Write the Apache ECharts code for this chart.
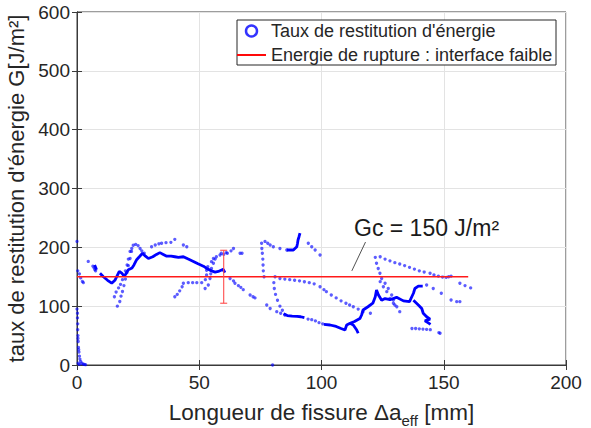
<!DOCTYPE html>
<html>
<head>
<meta charset="utf-8">
<script src="https://cdn.jsdelivr.net/npm/echarts@6/dist/echarts.min.js"></script>
<style>html,body{margin:0;padding:0;background:#fff}#c{width:591px;height:428px}</style>
</head>
<body>
<div id="c"></div>
<script>
// ---- tick labels / axes ----
const xTicks = [0, 50, 100, 150, 200];
const yTicks = [0, 100, 200, 300, 400, 500, 600];

// ---- dotted measurement points (Taux de restitution d'énergie) ----
const dotsOrigin = [[0,210],[0.3,160],[1,155],[1.5,148],[2.2,142],[2.6,140],[0,95],[0.2,80],[0.3,70],[0.3,60],[0.4,50],[0.5,40],[0.6,30],[0.8,22],[1,15],[1.2,10],[1.5,6],[2,3],[2.5,1.5],[3,1],[3.5,0.5],[0.5,3],[1,1],[0.2,88],[0.4,45],[0.7,26]];
const dotsEarly = [[4.6,176],[6.5,168],[7,165],[7.3,162],[7.6,160]];
const curveA = [[16.5,100],[17.5,108],[18,117],[18.6,125],[19.2,135],[19.8,146],[20.4,157],[21,169],[21.7,181],[22.3,193],[23,203.5],[24,205],[25,203],[25.8,198],[26.5,194],[27.5,190]];
const curveB = [[15.3,116],[16,124],[17,131],[17.8,137],[18.6,145],[19.2,152],[19.8,160],[20.5,170],[21,180],[21.7,193],[22.4,198]];
const dotsAbove = [[30.5,201],[32,204],[33.5,206],[34.6,207],[36.4,208],[38.4,208.5],[40,213.6],[43.5,204],[44.9,201]];
const curveL = [[40,116],[41,120],[42,126],[43,133],[43.5,139],[45.5,140],[47.3,140],[49,140],[51,140],[52.5,145],[53,153],[53,161],[53.5,167],[55,175.6],[55.8,181],[57,184],[58.5,187],[60,188],[61.5,190],[63,194],[64,198]];
const curveM = [[52.4,130],[53.7,136],[54.4,147],[54.7,155],[55,164],[55.8,173],[56.5,180],[59,190],[61,191],[66.7,190],[67.5,190]];
const curveD = [[62.6,147],[64,143],[64.6,139],[66,135],[67,132],[68,128],[70.8,119],[72,116],[72.8,114],[77.6,102],[79,96],[81.7,90.6],[83.3,88],[85,85]];
const curveV = [[75.5,207],[75.6,198],[75.8,190],[76,180],[76.1,170],[76.2,160],[76.5,150],[76.9,210],[78,207],[79,204],[80.3,201],[83,198],[85.8,195.5],[94.6,207],[96,201],[97.4,195.5],[99.4,187]];
const curveLoop = [[81,150],[80.5,140],[80.7,130],[81.2,120],[82,110],[83,100],[84,93],[94.5,78],[96,77],[97.5,75],[99,72],[100.5,70],[80,0]];
const curveP = [[83,147],[85,146],[87,145],[89,144],[91,143],[93,141.5],[95,140],[97,138],[99.4,133],[101,128],[102,124.6],[104,119],[106,114],[108,109],[110,105],[111.5,102],[113,99],[115,95],[117,90.6],[120,88]];
const curveR1 = [[122,183],[124,184],[126,180],[128,177],[130,174],[132,171.7],[134,169],[136,166],[138,163],[140,160],[142,158],[144.4,156],[146,153],[147.8,151],[149.5,149.5],[151,149],[152,150],[153,151]];
const curveR2 = [[122.5,173],[123.2,164],[123.9,156],[124.6,147],[126,139],[127.3,130],[128.7,119],[129.4,110.5],[130,102],[124,141.6],[125.3,133],[126.7,124.6],[128,113],[129.4,105],[130.8,99],[132,90.6]];
const curveR3 = [[143,136],[145.7,130],[149,122],[153,110.5],[155.3,107.6],[156.6,107.6],[156.6,139],[158.7,135],[161,131]];
const dotsBottom = [[137,62],[138.5,62],[140,61.5],[141.5,61],[143,60.5],[144.5,60],[148,55],[148.5,54]];

// ---- dense (thick) stretches of the same measurement ----
const thick0 = [[7.2,170],[7.6,166],[8,162]];
const thick1 = [[9.4,156],[10.8,150],[12.5,144],[14.2,139],[15.5,144],[17.3,159],[18.3,156],[19.3,151],[20,155],[21,162],[22.5,165],[23.3,170],[24.4,179],[25.5,184],[26.8,190],[28,185],[29.2,181],[31,184],[32.5,188],[33.9,191],[35.3,188],[36.7,185],[38.5,185],[40,184],[41.5,183],[43.5,184],[45.5,180],[47.6,176],[49.5,172],[51.7,168],[53.5,163],[55,160],[56.5,158],[57.8,159],[59.8,162.6],[60.5,157]];
const thick2 = [[84.5,87],[86,84],[88,83],[90,82.5],[91.5,82],[93,80.5]];
const thick3 = [[101,69],[103.5,68],[106,65.5],[108,62],[109.6,59.5],[110.3,68],[111.7,71],[113,68],[114.4,59.5],[115,54]];
const thick4 = [[111.7,71],[113.5,74],[115.7,79],[116.4,85],[117,93.5],[119,99],[121,105],[122,116],[122.5,127.5],[123.3,119],[124.6,110],[126,113],[128,111],[130.7,115],[133.5,109],[136,107.6],[137.6,122],[138.2,130],[139.6,134],[141.4,134]];
const thick5 = [[137.6,110],[139.6,102],[141,96],[141.6,88],[143,82],[144.4,78],[142.3,75],[143.5,72],[144.6,69]];
const thick6 = [[85.8,195.5],[88.5,195.5],[89.9,201],[90.2,207],[90.4,212.5],[90.8,218],[91.2,224]];

// ---- reference line and error bar ----
const gcLine = [[0,150],[160,150]];
const errorBar = [[60,105,195]];
const arrowFrom = [118,209];
const arrowTo = [112.4,160];

const seriesName = "Taux de restitution d'énergie";
const lineName = "Energie de rupture : interface faible";
const FONT = "'Liberation Sans', Arial, Helvetica, sans-serif";
const BLUE = '#0000ff';
const AX = '#3a3a3a';

const dots = [].concat(dotsOrigin, dotsEarly, curveA, curveB, dotsAbove, curveL, curveM, curveD, curveV, curveLoop, curveP, curveR1, curveR2, curveR3, dotsBottom);
const thickSegs = [thick0, thick1, thick2, thick3, thick4, thick5, thick6];

const chart = echarts.init(document.getElementById('c'), null, {renderer: 'svg'});

const axisCommon = {
  type: 'value',
  axisLine: {show: true, lineStyle: {color: AX, width: 1}},
  axisTick: {show: true, inside: true, length: 5, lineStyle: {color: AX}},
  axisLabel: {fontFamily: FONT, fontSize: 19, color: '#262626'},
  splitLine: {show: true, lineStyle: {color: '#e3e3e3', width: 1}}
};

const series = [
  {
    name: seriesName, type: 'scatter', data: dots, symbolSize: 3.3,
    itemStyle: {color: 'rgba(0,0,255,0.8)'}, z: 3, silent: true
  }
];
thickSegs.forEach(seg => series.push({
  name: seriesName, type: 'line', data: seg, symbol: 'none', smooth: false,
  lineStyle: {color: BLUE, width: 2.8}, itemStyle: {color: BLUE}, z: 3, silent: true
}));
series.push({
  name: lineName, type: 'line', data: gcLine, symbol: 'none',
  lineStyle: {color: '#ff1a1a', width: 1.6}, itemStyle: {color: '#ff0000'}, z: 4, silent: true
});
series.push({
  type: 'custom', data: errorBar, z: 5, silent: true,
  encode: {x: 0, y: [1, 2]},
  renderItem: function (params, api) {
    const x = api.value(0), lo = api.value(1), hi = api.value(2);
    const p1 = api.coord([x, lo]), p2 = api.coord([x, hi]);
    const w = 3.5;
    const st = {stroke: '#ff4d4d', lineWidth: 1.1};
    return {type: 'group', children: [
      {type: 'line', shape: {x1: p1[0], y1: p1[1], x2: p2[0], y2: p2[1]}, style: st},
      {type: 'line', shape: {x1: p1[0]-w, y1: p1[1], x2: p1[0]+w, y2: p1[1]}, style: st},
      {type: 'line', shape: {x1: p2[0]-w, y1: p2[1], x2: p2[0]+w, y2: p2[1]}, style: st}
    ]};
  },
  markLine: {
    silent: true, symbol: ['none', 'arrow'], symbolSize: [0, 7],
    label: {show: false},
    lineStyle: {color: '#262626', width: 0.8, type: 'solid'},
    data: [[{coord: arrowFrom}, {coord: arrowTo}]]
  }
});

chart.setOption({
  animation: false,
  backgroundColor: '#fff',
  textStyle: {fontFamily: FONT},
  grid: {left: 77, right: 25, top: 12, bottom: 63, show: true, borderColor: AX, borderWidth: 1,
         backgroundColor: '#fff', containLabel: false, outerBoundsMode: 'none'},
  xAxis: [
    Object.assign({}, axisCommon, {
      min: xTicks[0], max: xTicks[xTicks.length-1], interval: xTicks[1]-xTicks[0],
      axisLabel: Object.assign({}, axisCommon.axisLabel, {margin: 8}),
      name: '{a|Longueur de fissure Δa}{b|eff}{a| [mm]}',
      nameLocation: 'middle', nameGap: 1,
      nameTextStyle: {rich: {
        a: {fontFamily: FONT, fontSize: 22.5, color: '#262626', lineHeight: 26},
        b: {fontFamily: FONT, fontSize: 15, color: '#262626', lineHeight: 17, padding: [16, 0, 0, 0]}
      }}
    }),
    Object.assign({}, axisCommon, {
      position: 'top', min: xTicks[0], max: xTicks[xTicks.length-1], interval: xTicks[1]-xTicks[0],
      axisLabel: {show: false}, splitLine: {show: false}
    })
  ],
  yAxis: [
    Object.assign({}, axisCommon, {
      min: yTicks[0], max: yTicks[yTicks.length-1], interval: yTicks[1]-yTicks[0],
      axisLabel: Object.assign({}, axisCommon.axisLabel, {margin: 7}),
      name: "taux de restitution d'énergie G[J/m²]",
      nameLocation: 'middle', nameGap: 44,
      nameTextStyle: {fontFamily: FONT, fontSize: 22, color: '#262626'}
    }),
    Object.assign({}, axisCommon, {
      position: 'right', min: yTicks[0], max: yTicks[yTicks.length-1], interval: yTicks[1]-yTicks[0],
      axisLabel: {show: false}, splitLine: {show: false}
    })
  ],
  legend: {
    orient: 'vertical', left: 237, top: 21, padding: 0, itemGap: 4,
    itemWidth: 29, itemHeight: 11, z: 10,
    textStyle: {fontFamily: FONT, fontSize: 18, color: '#262626', lineHeight: 20},
    data: [
      {name: seriesName, icon: 'circle', itemStyle: {color: '#ffffff', borderColor: BLUE, borderWidth: 2.5}},
      {name: lineName, icon: 'path://M0,0L30,0L30,2L0,2Z', itemStyle: {color: '#ff0000'}}
    ]
  },
  graphic: [
    {type: 'rect', z: 8, shape: {x: 237, y: 20, width: 319, height: 45},
     style: {fill: '#fff', stroke: '#262626', lineWidth: 1}},
    {type: 'text', z: 8, x: 354, y: 228,
     style: {text: 'Gc = 150 J/m²', font: "23px 'Liberation Sans', Arial, sans-serif", fill: '#1a1a1a', textVerticalAlign: 'middle', verticalAlign: 'middle'}}
  ],
  series: series
});
</script>
</body>
</html>
